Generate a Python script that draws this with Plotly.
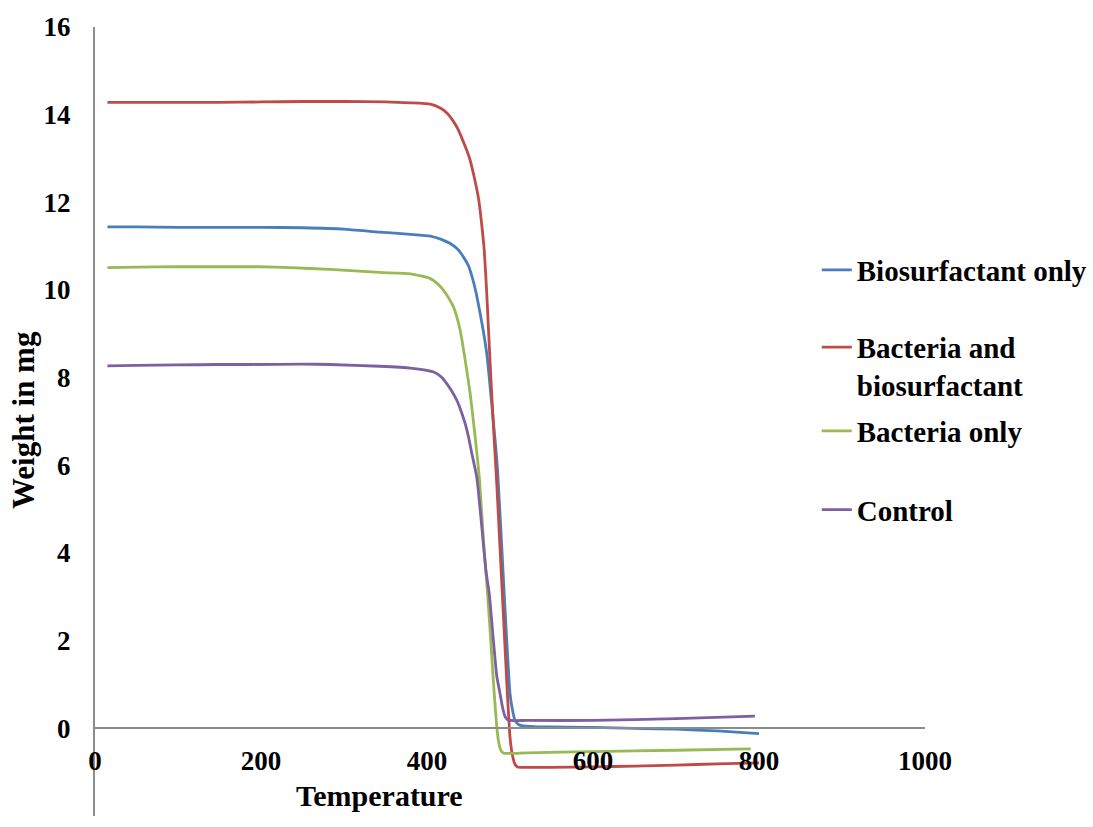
import plotly.graph_objects as go

# Thermogravimetric curves: weight (mg) against temperature
series_names = ["Biosurfactant only", "Bacteria and<br>biosurfactant", "Bacteria only", "Control"]
series_colors = ["#4A7EBB", "#BE4B48", "#98B954", "#7D60A0"]

bio_temp = [15, 50, 100, 150, 200, 250, 300, 343, 380, 404, 418, 428, 437, 444, 450, 454, 459,
            464, 468, 472, 478, 485, 493, 500, 503, 506, 510, 514, 530, 600, 650, 700, 750, 800]
bio_weight = [11.44, 11.44, 11.43, 11.43, 11.43, 11.42, 11.39, 11.32, 11.27, 11.23, 11.15, 11.06,
              10.93, 10.75, 10.55, 10.32, 9.95, 9.47, 9.05, 8.55, 7.40, 5.90, 3.07, 0.79, 0.42,
              0.18, 0.09, 0.06, 0.04, 0.02, 0.00, -0.02, -0.06, -0.12]

mix_temp = [15, 50, 100, 150, 200, 250, 300, 350, 380, 404, 416, 424, 431, 437, 443, 448, 452,
            456, 459, 462, 464, 467, 469, 472, 476, 480, 484, 488, 492, 496, 500, 503, 506, 509,
            513, 550, 600, 650, 700, 750, 800]
mix_weight = [14.28, 14.28, 14.28, 14.28, 14.29, 14.30, 14.30, 14.29, 14.27, 14.24, 14.15, 14.04,
              13.87, 13.68, 13.42, 13.18, 12.96, 12.65, 12.39, 12.10, 11.82, 11.30, 10.90, 9.92,
              8.35, 6.90, 5.60, 4.10, 2.60, 1.10, -0.20, -0.62, -0.82, -0.88, -0.89, -0.89, -0.88,
              -0.86, -0.84, -0.81, -0.79]

bact_temp = [15, 50, 100, 150, 199, 235, 283, 343, 380, 404, 413, 420, 426, 432, 436, 440, 446,
             452, 458, 463, 468, 473, 477, 481, 484, 486, 488, 490, 493, 520, 600, 700, 790]
bact_weight = [10.51, 10.52, 10.53, 10.53, 10.53, 10.51, 10.47, 10.40, 10.37, 10.26, 10.14, 9.99,
               9.82, 9.61, 9.38, 9.08, 8.40, 7.64, 6.65, 5.73, 4.30, 3.07, 1.95, 0.79, 0.05,
               -0.28, -0.45, -0.53, -0.57, -0.56, -0.53, -0.50, -0.47]

ctrl_temp = [15, 50, 100, 150, 187, 250, 283, 343, 380, 408, 417, 424, 430, 436, 441, 446, 450,
             454, 460, 466, 471, 475, 480, 484, 488, 491, 494, 497, 500, 520, 600, 700, 795]
ctrl_weight = [8.27, 8.28, 8.29, 8.30, 8.30, 8.31, 8.30, 8.26, 8.22, 8.13, 8.02, 7.86, 7.69, 7.48,
               7.24, 6.95, 6.65, 6.27, 5.73, 4.60, 3.60, 3.07, 2.00, 1.20, 0.79, 0.48, 0.27,
               0.20, 0.18, 0.18, 0.18, 0.22, 0.28]

x_ticks = [0, 200, 400, 600, 800, 1000]
y_ticks = [-2, 0, 2, 4, 6, 8, 10, 12, 14, 16]
x_range = [0, 1000]
y_range = [-2, 16]

FONT = "Liberation Serif, Times New Roman, serif"
AXIS_GREY = "#8c8c8c"

temps = [bio_temp, mix_temp, bact_temp, ctrl_temp]
weights = [bio_weight, mix_weight, bact_weight, ctrl_weight]
legend_ids = ["legend", "legend2", "legend3", "legend4"]

fig = go.Figure()
for name, color, t, w, lg in zip(series_names, series_colors, temps, weights, legend_ids):
    fig.add_trace(go.Scatter(x=t, y=w, mode="lines", name=name, legend=lg,
                             line=dict(color=color, width=2.8, shape="spline", smoothing=0.5)))

# each entry gets its own legend box so the spacing can be set freely
legend_x = 0.8696
legend_y = [0.692, 0.570, 0.488, 0.388]
legend_font = dict(family=FONT, size=29, color="black", weight="bold")
legend_layout = {}
for lg, ly in zip(legend_ids, legend_y):
    legend_layout[lg] = dict(x=legend_x, y=ly, xanchor="left", yanchor="middle",
                             font=legend_font, bgcolor="rgba(0,0,0,0)", valign="top",
                             borderwidth=0, itemclick=False)

# x axis crosses the y axis at weight 0
x_axis_pos = (0 - y_range[0]) / (y_range[1] - y_range[0])

fig.update_layout(
    width=1093, height=827,
    margin=dict(l=95, r=168, t=27, b=11, autoexpand=False),
    paper_bgcolor="white", plot_bgcolor="white",
    showlegend=True,
    xaxis=dict(range=x_range, tickvals=x_ticks, showgrid=False, zeroline=False,
               showline=True, linecolor=AXIS_GREY, linewidth=2, ticks="",
               anchor="free", position=x_axis_pos, ticklabelstandoff=8,
               tickfont=dict(family=FONT, size=27, color="black", weight="bold")),
    yaxis=dict(range=y_range, tickvals=y_ticks, showgrid=False, zeroline=False,
               showline=True, linecolor=AXIS_GREY, linewidth=2, ticks="",
               ticklabelstandoff=17,
               tickfont=dict(family=FONT, size=27, color="black", weight="bold")),
    annotations=[
        dict(text="Temperature", xref="paper", yref="paper", x=0.343, y=0.0266,
             xanchor="center", yanchor="middle", showarrow=False,
             font=dict(family=FONT, size=30, color="black", weight="bold")),
        dict(text="Weight in mg", xref="paper", yref="paper", x=-0.0855, y=0.502,
             xanchor="center", yanchor="middle", showarrow=False, textangle=-90,
             font=dict(family=FONT, size=31, color="black", weight="bold")),
    ],
    **legend_layout,
)

fig.write_html("out.html")
